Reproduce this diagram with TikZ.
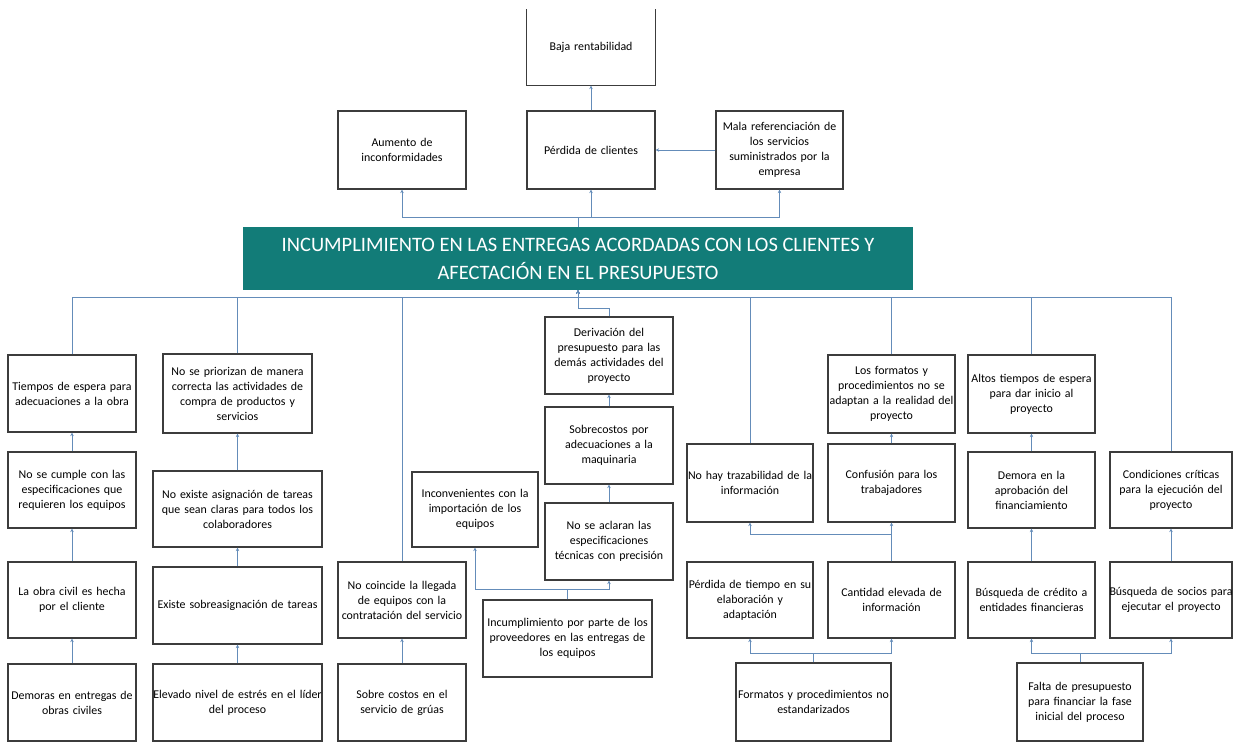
\documentclass[tikz,border=0pt]{standalone}
\usepackage{fontspec}
\setmainfont{Carlito}
\usetikzlibrary{arrows.meta}
\definecolor{tealbox}{RGB}{18,124,120}
\definecolor{conn}{RGB}{100,140,185}
\definecolor{bord}{RGB}{60,60,60}
\begin{document}
\begin{tikzpicture}[x=1pt,y=-1pt,
 box/.style={draw=bord, line width=1.2pt, fill=white, align=center, inner xsep=0pt, inner ysep=0pt,
   font=\fontsize{11.9}{15}\selectfont, text=black},
 ln/.style={draw=conn, line width=0.9pt},
 ar/.style={ln, -{Stealth[length=3.5pt,width=3.5pt]}},
]
\useasboundingbox (0,0) rectangle (1233,742);

% ---------- effects ----------
\node[box, draw=none, text width=128pt, minimum height=75pt] (baja) at (591,47.5) {Baja rentabilidad};
\draw[bord, line width=1.2pt] (baja.north west) -- (baja.south west) -- (baja.south east) -- (baja.north east);
\node[box, text width=128pt, minimum height=78pt] (aumento) at (402,150) {Aumento de\\inconformidades};
\node[box, text width=128pt, minimum height=78pt] (perdida) at (591,150) {Pérdida de clientes};
\node[box, text width=127pt, minimum height=78pt] (mala) at (779.5,150) {Mala referenciación de\\los servicios\\suministrados por la\\empresa};

% ---------- main problem ----------
\node[fill=tealbox, draw=none, minimum width=670pt, minimum height=63pt, align=center, inner sep=0pt,
  text=white, font=\fontsize{20.5}{28}\selectfont] (main) at (578,258.5)
  {INCUMPLIMIENTO EN LAS ENTREGAS ACORDADAS CON LOS CLIENTES Y\\AFECTACIÓN EN EL PRESUPUESTO};

% ---------- causes ----------
\node[box, text width=128pt, minimum height=77pt] (t1) at (72,393.5) {Tiempos de espera para\\adecuaciones a la obra};
\node[box, text width=128pt, minimum height=76pt] (t2) at (72,490) {No se cumple con las\\especificaciones que\\requieren los equipos};
\node[box, text width=128pt, minimum height=76pt] (t3) at (72,600) {La obra civil es hecha\\por el cliente};
\node[box, text width=128pt, minimum height=77pt] (t4) at (72,702.5) {Demoras en entregas de\\obras civiles};

\node[box, text width=149pt, minimum height=79pt] (p1) at (237.5,393.5) {No se priorizan de manera\\correcta las actividades de\\compra de productos y\\servicios};
\node[box, text width=169pt, minimum height=76pt] (p2) at (237.5,509) {No existe asignación de tareas\\que sean claras para todos los\\colaboradores};
\node[box, text width=169pt, minimum height=77pt] (p3) at (237.5,605.5) {Existe sobreasignación de tareas};
\node[box, text width=169pt, minimum height=77pt] (p4) at (237.5,702.5) {Elevado nivel de estrés en el líder\\del proceso};

\node[box, text width=128pt, minimum height=76pt] (c1) at (402,600) {No coincide la llegada\\de equipos con la\\contratación del servicio};
\node[box, text width=128pt, minimum height=77pt] (c2) at (402,702.5) {Sobre costos en el\\servicio de grúas};

\node[box, text width=128pt, minimum height=77pt] (d1) at (609,355.5) {Derivación del\\presupuesto para las\\demás actividades del\\proyecto};
\node[box, text width=128pt, minimum height=77pt] (d2) at (609,445.5) {Sobrecostos por\\adecuaciones a la\\maquinaria};
\node[box, text width=128pt, minimum height=77pt] (d3) at (609,541.5) {No se aclaran las\\especificaciones\\técnicas con precisión};
\node[box, text width=126pt, minimum height=75pt] (d4) at (475,509.5) {Inconvenientes con la\\importación de los\\equipos};
\node[box, text width=169pt, minimum height=77pt] (d5) at (567.5,638.5) {Incumplimiento por parte de los\\proveedores en las entregas de\\los equipos};

\node[box, text width=126pt, minimum height=78pt] (n1) at (750,483) {No hay trazabilidad de la\\información};
\node[box, text width=127pt, minimum height=78pt] (n2) at (891.5,394) {Los formatos y\\procedimientos no se\\adaptan a la realidad del\\proyecto};
\node[box, text width=127pt, minimum height=78pt] (n3) at (891.5,483) {Confusión para los\\trabajadores};
\node[box, text width=126pt, minimum height=76pt] (n4) at (750,600) {Pérdida de tiempo en su\\elaboración y\\adaptación};
\node[box, text width=127pt, minimum height=76pt] (n5) at (891.5,600) {Cantidad elevada de\\información};
\node[box, text width=155pt, minimum height=78pt] (n6) at (813.5,702) {Formatos y procedimientos no\\estandarizados};

\node[box, text width=127pt, minimum height=78pt] (a1) at (1031.5,394) {Altos tiempos de espera\\para dar inicio al\\proyecto};
\node[box, text width=127pt, minimum height=76pt] (a2) at (1031.5,490) {Demora en la\\aprobación del\\financiamiento};
\node[box, text width=127pt, minimum height=76pt] (a3) at (1031.5,600) {Búsqueda de crédito a\\entidades financieras};
\node[box, text width=126pt, minimum height=78pt] (a4) at (1080,702) {Falta de presupuesto\\para financiar la fase\\inicial del proceso};

\node[box, text width=132pt, inner xsep=-5pt, minimum height=76pt] (s1) at (1171,490) {Condiciones críticas\\para la ejecución del\\proyecto};
\node[box, text width=132pt, inner xsep=-5pt, minimum height=76pt] (s2) at (1171,600) {Búsqueda de socios para\\ejecutar el proyecto};

% ---------- connectors: effects ----------
\coordinate (topbus) at (578,217);
\draw[ar] (main.north) -- (main.north |- topbus) -| (aumento.south);
\draw[ar] (main.north) -- (main.north |- topbus) -| (perdida.south);
\draw[ar] (main.north) -- (main.north |- topbus) -| (mala.south);
\draw[ar] (mala.west) -- (perdida.east);
\draw[ar] (perdida.north) -- (baja.south);

% ---------- connectors: causes to main ----------
\coordinate (bus) at (578,297);
\foreach \n in {t1,p1,c1,n1,n2,a1,s1}{
  \draw[ar] (\n.north) |- (bus) -- (main.south);
}
\draw[ar] (d1.north) -- ++(0,-8) -| (main.south);

% ---------- chains ----------
\draw[ar] (t2.north) -- (t1.south);
\draw[ar] (t3.north) -- (t2.south);
\draw[ar] (t4.north) -- (t3.south);

\draw[ar] (p2.north) -- (p1.south);
\draw[ar] (p3.north) -- (p2.south);
\draw[ar] (p4.north) -- (p3.south);

\draw[ar] (c2.north) -- (c1.south);

\draw[ar] (d2.north) -- (d1.south);
\draw[ar] (d3.north) -- (d2.south);
\draw[ar] (d5.north) -- ++(0,-10) -| (d4.south);
\draw[ar] (d5.north) -- ++(0,-10) -| (d3.south);

\draw[ar] (n3.north) -- (n2.south);
\draw[ar] (n5.north) -- (n3.south);
\draw[ar] (n5.north) -- ++(0,-27) -| (n1.south);
\draw[ar] (n6.north) -- ++(0,-9) -| (n4.south);
\draw[ar] (n6.north) -- ++(0,-9) -| (n5.south);

\draw[ar] (a2.north) -- (a1.south);
\draw[ar] (a3.north) -- (a2.south);
\draw[ar] (a4.north) -- ++(0,-9) -| (a3.south);
\draw[ar] (a4.north) -- ++(0,-9) -| (s2.south);
\draw[ar] (s2.north) -- (s1.south);
\end{tikzpicture}
\end{document}
